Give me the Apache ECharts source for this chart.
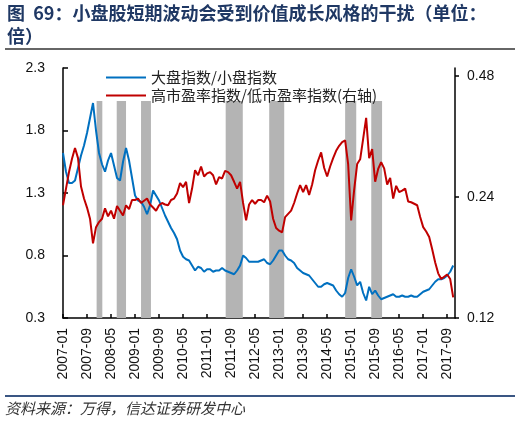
<!DOCTYPE html>
<html><head><meta charset="utf-8">
<script src="https://cdn.jsdelivr.net/npm/echarts@6/dist/echarts.min.js"></script>
<style>html,body{margin:0;padding:0;background:#fff}#c{width:520px;height:426px}</style>
</head><body><div id="c"></div>
<script>
// Monthly categories, 2007-01 .. 2017-11
const startYear = 2007, monthCount = 131;
const months = [];
for (let i = 0; i < monthCount; i++) {
  const y = startYear + Math.floor(i / 12), m = i % 12 + 1;
  months.push(y + '-' + (m < 10 ? '0' : '') + m);
}
const xTickLabels = ['2007-01','2007-09','2008-05','2009-01','2009-09','2010-05','2011-01','2011-09','2012-05','2013-01','2013-09','2014-05','2015-01','2015-09','2016-05','2017-01','2017-09'];
const leftTicks = [0.3, 0.8, 1.3, 1.8, 2.3];
const rightTicks = [0.12, 0.24, 0.48];

// 大盘指数/小盘指数 (left axis)
const bigSmall = [
 1.62,1.47,1.38,1.38,1.40,1.50,1.60,1.68,1.78,1.90,
 2.02,1.80,1.62,1.53,1.47,1.56,1.62,1.52,1.42,1.40,
 1.55,1.66,1.56,1.42,1.28,1.24,1.23,1.19,1.13,1.20,
 1.32,1.28,1.24,1.18,1.12,1.07,1.02,0.98,0.93,0.84,
 0.79,0.77,0.76,0.72,0.68,0.71,0.70,0.67,0.69,0.69,
 0.67,0.68,0.68,0.70,0.68,0.67,0.66,0.65,0.68,0.72,
 0.80,0.78,0.75,0.75,0.75,0.75,0.76,0.77,0.74,0.73,
 0.76,0.80,0.84,0.84,0.80,0.77,0.76,0.74,0.70,0.68,
 0.66,0.65,0.64,0.61,0.58,0.55,0.55,0.57,0.58,0.57,
 0.56,0.52,0.49,0.47,0.50,0.62,0.69,0.63,0.56,0.59,
 0.50,0.44,0.55,0.49,0.52,0.48,0.45,0.46,0.47,0.48,
 0.49,0.47,0.47,0.48,0.47,0.47,0.48,0.47,0.47,0.49,
 0.51,0.52,0.53,0.56,0.59,0.61,0.61,0.62,0.64,0.67,
 0.72];

// 高市盈率指数/低市盈率指数 (right axis, log scale)
const highLowPE = [
 0.229,0.252,0.277,0.299,0.318,0.300,0.255,0.238,0.226,0.212,
 0.184,0.202,0.208,0.212,0.225,0.215,0.222,0.212,0.228,0.222,
 0.216,0.229,0.224,0.236,0.236,0.238,0.232,0.235,0.238,0.230,
 0.226,0.222,0.229,0.232,0.230,0.229,0.236,0.238,0.245,0.260,
 0.254,0.262,0.232,0.252,0.280,0.272,0.286,0.270,0.275,0.277,
 0.272,0.258,0.269,0.267,0.279,0.277,0.272,0.262,0.252,0.262,
 0.232,0.210,0.230,0.236,0.231,0.236,0.236,0.233,0.242,0.234,
 0.212,0.201,0.198,0.196,0.214,0.218,0.222,0.232,0.245,0.257,
 0.247,0.257,0.243,0.258,0.280,0.296,0.310,0.284,0.270,0.286,
 0.300,0.313,0.322,0.329,0.332,0.290,0.210,0.250,0.290,0.298,
 0.335,0.378,0.300,0.316,0.262,0.282,0.293,0.283,0.258,0.268,
 0.238,0.256,0.247,0.249,0.252,0.234,0.233,0.231,0.229,0.214,
 0.202,0.197,0.191,0.178,0.165,0.155,0.150,0.152,0.154,0.150,
 0.135];

// shaded periods, in month index from 2007-01
const shadedPeriods = [[11.2,13.1],[17.9,21.0],[26.0,29.3],[54.2,59.9],[68.7,73.7],[94.0,97.7],[102.7,106.3]];
const shadeTop = 2.036;

const chart = echarts.init(document.getElementById('c'), null, {renderer: 'canvas'});
const lab = {fontFamily: '"Liberation Sans", Arial', fontSize: 14, color: '#111'};
const xTickIdx = xTickLabels.map(l => months.indexOf(l));
const rTickVals = rightTicks.map(v => Math.log2(v));

chart.setOption({
  animation: false,
  backgroundColor: '#fff',
  grid: {left: 63, right: 65, top: 68, bottom: 108, containLabel: false},
  legend: {
    orient: 'vertical', left: 100, top: 65, itemWidth: 40, itemHeight: 14, itemGap: 3,
    itemStyle: {opacity: 0},
    textStyle: {fontFamily: '"Noto Sans CJK SC"', fontSize: 15, color: '#222'},
    data: ['大盘指数/小盘指数', '高市盈率指数/低市盈率指数(右轴)']
  },
  xAxis: {
    type: 'value', min: 0, max: 130.6,
    axisLine: {show: true, lineStyle: {color: '#000', width: 1.5}},
    axisTick: {show: true, inside: true, length: 4, customValues: xTickIdx, lineStyle: {color: '#000', width: 1.5}},
    axisLabel: Object.assign({customValues: xTickIdx, rotate: 90, margin: 10,
      formatter: v => months[Math.round(v)]}, lab),
    splitLine: {show: false}
  },
  yAxis: [{
    type: 'value', min: leftTicks[0], max: leftTicks[leftTicks.length - 1], interval: 0.5,
    axisLine: {show: true, lineStyle: {color: '#000', width: 1.5}},
    axisTick: {show: true, inside: true, length: 5, lineStyle: {color: '#000', width: 1.5}},
    axisLabel: Object.assign({margin: 18, formatter: v => v.toFixed(1)}, lab),
    splitLine: {show: false}
  }, {
    type: 'value', min: Math.log2(0.12), max: Math.log2(0.503), position: 'right',
    axisLine: {show: true, lineStyle: {color: '#000', width: 1.5}},
    axisTick: {show: true, inside: false, length: 4, customValues: rTickVals, lineStyle: {color: '#000', width: 1.5}},
    axisLabel: Object.assign({margin: 12, customValues: rTickVals,
      formatter: v => Math.pow(2, v).toFixed(2)}, lab),
    splitLine: {show: false}
  }],
  series: [{
    name: '大盘指数/小盘指数', type: 'line', yAxisIndex: 0, symbol: 'none', z: 3,
    data: bigSmall.map((v, i) => [i, v]),
    lineStyle: {color: '#0070c0', width: 2}, itemStyle: {color: '#0070c0'},
    markArea: {
      silent: true, itemStyle: {color: '#b4b4b4'},
      data: shadedPeriods.map(p => [{xAxis: p[0], yAxis: leftTicks[0]}, {xAxis: p[1], yAxis: shadeTop}])
    }
  }, {
    name: '高市盈率指数/低市盈率指数(右轴)', type: 'line', yAxisIndex: 1, symbol: 'none', z: 3,
    data: highLowPE.map((v, i) => [i, Math.log2(v)]),
    lineStyle: {color: '#c00000', width: 2}, itemStyle: {color: '#c00000'}
  }],
  graphic: [
    {type: 'text', left: 7, top: 2, style: {
      text: '图  69：小盘股短期波动会受到价值成长风格的干扰（单位：\n倍）',
      font: 'bold 18px "Noto Sans CJK SC"', fill: '#1f3864', lineHeight: 23}},
    {type: 'line', shape: {x1: 5, y1: 49, x2: 515, y2: 49}, style: {stroke: '#333', lineWidth: 1.5}},
    {type: 'line', shape: {x1: 5, y1: 396, x2: 515, y2: 396}, style: {stroke: '#3a5683', lineWidth: 2}},
    {type: 'text', left: 5, top: 401, style: {
      text: '资料来源：万得，信达证券研发中心',
      font: 'italic 15px "Noto Sans CJK SC"', fill: '#333'}}
  ]
});
</script>
</body></html>
